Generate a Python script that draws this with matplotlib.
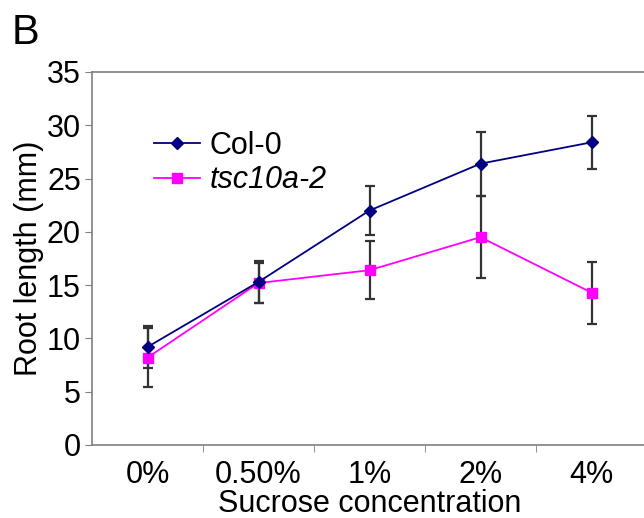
import numpy as np
import matplotlib
matplotlib.use('Agg')
import matplotlib.pyplot as plt

plt.rcParams['font.family'] = ['Liberation Sans', 'DejaVu Sans']

# -------- DATA --------
concentrations = ['0%', '0.50%', '1%', '2%', '4%']
col0_mean = [9.2, 15.3, 22.0, 26.4, 28.4]
col0_err = [2.0, 2.0, 2.3, 3.0, 2.5]
tsc_mean = [8.2, 15.2, 16.4, 19.5, 14.3]
tsc_err = [2.8, 1.9, 2.7, 3.85, 2.9]
# ----------------------

x = np.arange(len(concentrations))

fig = plt.figure(figsize=(6.44, 5.18), dpi=100)
ax = fig.add_axes([92 / 644, 73 / 518, 555 / 644, 373 / 518])

err_style = dict(ecolor='#333333', elinewidth=1.6, capsize=3.8, capthick=1.6)

ax.errorbar(x, col0_mean, yerr=col0_err, fmt='none', zorder=1, **err_style)
ax.errorbar(x, tsc_mean, yerr=tsc_err, fmt='none', zorder=1, **err_style)

ax.plot(x, col0_mean, color='#000080', marker='D', markersize=6, lw=1.3,
        label='Col-0', zorder=3)
ax.plot(x, tsc_mean, color='#FF00FF', marker='s', markersize=6.5, lw=1.3,
        label='tsc10a-2', zorder=2)

ax.set_xlim(-0.5, len(concentrations) - 0.5)
ax.set_ylim(0, 35)
ax.set_yticks(np.arange(0, 36, 5))
ax.set_xticks(x)
ax.set_xticklabels(concentrations)
ax.set_xticks(x[:-1] + 0.5, minor=True)

for side in ['left', 'top', 'bottom']:
    ax.spines[side].set_color('#808080')
    ax.spines[side].set_linewidth(1.2)
ax.spines['right'].set_visible(False)

ax.tick_params(axis='y', direction='out', length=5, color='#808080',
               labelsize=22, pad=3)
ax.tick_params(axis='x', which='major', length=0, labelsize=22, pad=11)
ax.tick_params(axis='x', which='minor', direction='out', length=5,
               color='#808080')

ax.set_xlabel('Sucrose concentration', fontsize=22, labelpad=-1)
ax.set_ylabel('Root length (mm)', fontsize=22, labelpad=2)

leg = ax.legend(loc='upper left', bbox_to_anchor=(0.09, 0.875), frameon=False,
                fontsize=22, handlelength=1.5, handletextpad=0.3,
                labelspacing=0.15, borderaxespad=0)
# mutant name in italics
leg.get_texts()[1].set_fontstyle('italic')

fig.text(12 / 644, 1 - 44 / 518, 'B', fontsize=30)

fig.savefig('out.png', dpi=100)
